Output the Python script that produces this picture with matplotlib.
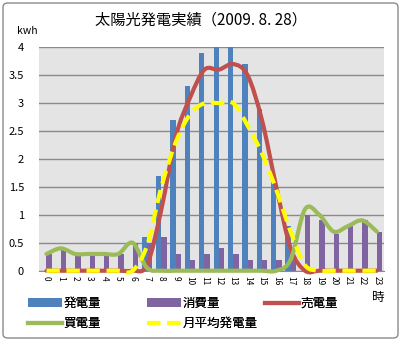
import numpy as np
import matplotlib
matplotlib.use("Agg")
import matplotlib.pyplot as plt
from matplotlib.path import Path
from matplotlib.patches import PathPatch, Patch, FancyBboxPatch
from matplotlib.lines import Line2D

plt.rcParams['font.family'] = ['Noto Sans CJK JP', 'DejaVu Sans']

# hourly values (kWh), 2009-08-28
hours = list(range(24))
hour_labels = [str(h) for h in hours]
generation = [0, 0, 0, 0, 0, 0, 0, 0.6, 1.7, 2.7, 3.3, 3.9, 4.1, 4.1, 3.7, 2.9, 1.6, 0.8,
              0, 0, 0, 0, 0, 0]
consumption = [0.3, 0.4, 0.3, 0.3, 0.3, 0.3, 0.5, 0.5, 0.6, 0.3, 0.2, 0.3, 0.4, 0.3, 0.2, 0.2,
               0.2, 0.2, 1.0, 0.9, 0.65, 0.8, 0.9, 0.7]
sold = [0, 0, 0, 0, 0, 0, 0, 0.1, 1.1, 2.4, 3.1, 3.6, 3.6, 3.7, 3.5, 2.7, 1.5, 0.4,
        0, 0, 0, 0, 0, 0]
bought = [0.3, 0.4, 0.3, 0.3, 0.3, 0.3, 0.5, 0.05, 0, 0, 0, 0, 0, 0, 0, 0, 0, 0.2,
          1.1, 1.0, 0.7, 0.8, 0.9, 0.7]
month_avg = [0, 0, 0, 0, 0, 0, 0, 0.45, 1.5, 2.3, 2.8, 3.0, 3.0, 3.0, 2.6, 2.1, 1.45, 0.7,
             0.1, 0, 0, 0, 0, 0]

C_GEN = '#4F81BD'
C_CON = '#8064A2'
C_SOLD = '#C0504D'
C_BUY = '#9BBB59'
C_AVG = '#FFFF00'


def smooth_path(x, y):
    # excel-style smoothed line: cubic bezier through every point
    pts = np.column_stack([x, y]).astype(float)
    n = len(pts)
    verts = [pts[0]]
    codes = [Path.MOVETO]
    for i in range(n - 1):
        p0 = pts[i - 1] if i > 0 else pts[i]
        p1 = pts[i]
        p2 = pts[i + 1]
        p3 = pts[i + 2] if i + 2 < n else pts[i + 1]
        verts += [p1 + (p2 - p0) / 6, p2 - (p3 - p1) / 6, p2]
        codes += [Path.CURVE4] * 3
    return Path(verts, codes)


W, H = 401, 341
fig = plt.figure(figsize=(W / 100, H / 100), dpi=100)
fig.patch.set_facecolor('white')

border = FancyBboxPatch((3 / W, 3 / H), 1 - 6 / W, 1 - 6 / H,
                        boxstyle='round,pad=0,rounding_size=0.012',
                        transform=fig.transFigure, facecolor='none',
                        edgecolor='#8a8a8a', lw=1)
fig.patches.append(border)

ax = fig.add_axes([39.3 / W, 1 - 270.7 / H, (384 - 39.3) / W, (270.7 - 47.3) / H])
ax.set_facecolor('#E4E4E4')

x = np.arange(len(hours))
bw = 0.37
ax.bar(x - bw / 2, generation, bw, color=C_GEN, zorder=2)
ax.bar(x + bw / 2, consumption, bw, color=C_CON, zorder=2)

lw = 3.0
ax.add_patch(PathPatch(smooth_path(x, sold), fill=False, edgecolor=C_SOLD, lw=lw,
                       joinstyle='round', capstyle='round', clip_on=False, zorder=3))
ax.add_patch(PathPatch(smooth_path(x, bought), fill=False, edgecolor=C_BUY, lw=lw,
                       joinstyle='round', capstyle='round', clip_on=False, zorder=3))
ax.add_patch(PathPatch(smooth_path(x, month_avg), fill=False, edgecolor=C_AVG, lw=lw,
                       linestyle=(0, (3.2, 1.6)), clip_on=False, zorder=3))

ax.set_xlim(-0.5, 23.5)
ax.set_ylim(0, 4)
ax.set_yticks(np.arange(0, 4.01, 0.5))
ax.set_yticklabels(['0', '0.5', '1', '1.5', '2', '2.5', '3', '3.5', '4'], fontsize=8)
ax.set_xticks(x)
ax.set_xticklabels(hour_labels, rotation=-90, fontsize=6)
ax.tick_params(axis='both', length=0)
ax.tick_params(axis='y', pad=11)
ax.tick_params(axis='x', pad=4)
ax.yaxis.grid(True, color='#8a8a8a', lw=1)
ax.set_axisbelow(True)
for s in ['top', 'right', 'left']:
    ax.spines[s].set_visible(False)
ax.spines['bottom'].set_color('#8a8a8a')

fig.text(201 / W, 1 - 20 / H, '太陽光発電実績（2009. 8. 28）', ha='center', va='center',
         fontsize=11)
fig.text(27 / W, 1 - 31 / H, 'kwh', ha='center', va='center', fontsize=7.5)
fig.text(378 / W, 1 - 297 / H, '時', ha='center', va='center', fontsize=9)

h_gen = Patch(facecolor=C_GEN)
h_con = Patch(facecolor=C_CON)
h_sold = Line2D([], [], color=C_SOLD, lw=lw)
h_buy = Line2D([], [], color=C_BUY, lw=lw)
h_avg = Line2D([], [], color=C_AVG, lw=lw, linestyle=(0, (3.2, 1.6)))

columns = [
    ([h_gen, h_buy], ['発電量', '買電量'], 28),
    ([h_con, h_avg], ['消費量', '月平均発電量'], 147),
    ([h_sold], ['売電量'], 265),
]
for handles, labels, x0 in columns:
    leg = fig.legend(handles, labels, loc='upper left',
                     bbox_to_anchor=(x0 / W, 1 - 297 / H),
                     frameon=False, fontsize=9, handlelength=2.7,
                     handletextpad=0.15, borderpad=0, borderaxespad=0,
                     labelspacing=0.55)
    fig.add_artist(leg)

fig.savefig('out.png', dpi=100)
